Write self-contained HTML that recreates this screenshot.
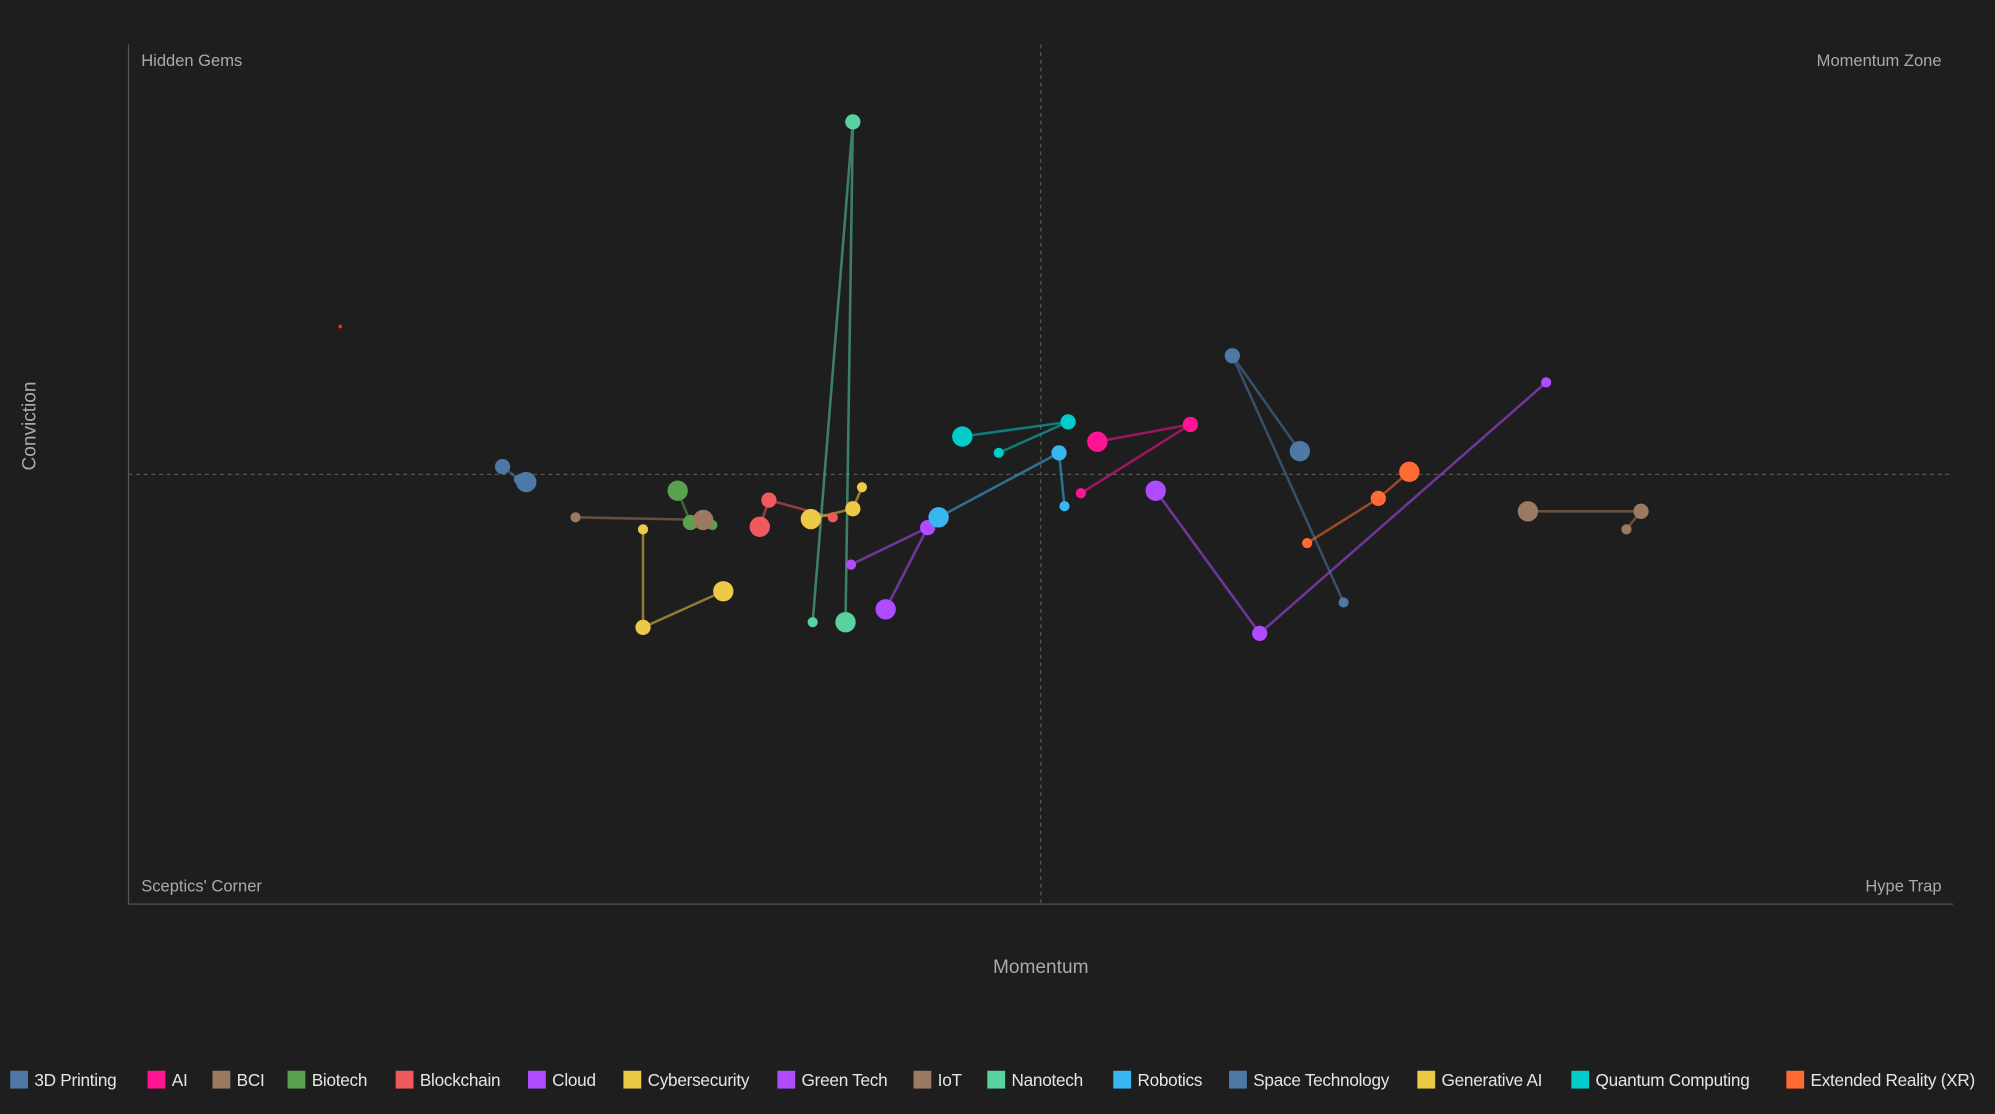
<!DOCTYPE html>
<html><head><meta charset="utf-8"><style>
html,body{margin:0;padding:0;background:#1e1e1e;width:1995px;height:1114px;overflow:hidden}
svg{display:block}
text{font-family:"Liberation Sans",sans-serif}
</style></head><body>
<svg id="chart" width="1995" height="1114" viewBox="0 0 1568 876" preserveAspectRatio="none" xmlns="http://www.w3.org/2000/svg">
<rect x="0" y="0" width="1568" height="876" fill="#1e1e1e"/>
<g id="axes"></g>
<g id="lines"></g>
<g id="points"></g>
<g id="legend"></g>
</svg>
<script>
const seriesNames = ["3D Printing","AI","BCI","Biotech","Blockchain","Cloud","Cybersecurity","Green Tech","IoT","Nanotech","Robotics","Space Technology","Generative AI","Quantum Computing","Extended Reality (XR)"];
const seriesColors = ["#4e79a7","#ff1493","#9c7a62","#59a14f","#f05a5f","#b04cff","#edc948","#b04cff","#9c7a62","#5ad2a0","#38b6f0","#4e79a7","#edc948","#00cccc","#ff6b35"];
const momentum = [
 [20.5,21.4,21.8],[52.2,58.2,53.1],[82.1,82.9,76.7],[32.0,30.8,30.1],[34.6,35.1,38.6],
 [39.6,43.8,41.5],[28.2,28.2,32.6],[77.7,62.0,56.3],[24.5,31.5],[37.5,39.7,39.3],
 [51.3,51.0,44.4],[66.6,60.5,64.2],[40.2,39.7,37.4],[47.7,51.5,45.7],[64.6,68.5,70.2]];
const conviction = [
 [50.9,49.4,49.1],[47.8,55.8,53.8],[43.6,45.7,45.7],[44.1,44.4,48.1],[43.9,47.0,45.0],
 [39.5,43.8,34.3],[43.6,32.2,36.4],[60.7,31.5,48.1],[45.0,44.7],[32.8,91.0,32.8],
 [46.3,52.5,45.0],[35.1,63.8,52.7],[48.5,46.0,44.8],[52.5,56.1,54.4],[42.0,47.2,50.3]];
const sizes = [
 [2,1,3],[1,2,3],[1,2,3],[1,2,3],[3,2,1],[1,2,3],[1,2,3],[1,2,3],[1,3],[1,2,3],
 [1,2,3],[1,2,3],[1,2,3],[1,2,3],[1,2,3]];
const outlierPoint = [11.6,67.2];
const quadrantLabels = ["Hidden Gems","Momentum Zone","Sceptics' Corner","Hype Trap"];
const legendX = [8,116,167,226,311,415,490,611,718,776,875,966,1114,1235,1404];

const X0=101,X1=1535,Y0=711,Y1=35;
const xs=v=>X0+(v/100)*(X1-X0);
const ys=v=>Y0-(v/100)*(Y0-Y1);
const rs=s=>2+s*2;
const NS="http://www.w3.org/2000/svg";
function mk(tag,attrs,parent){const e=document.createElementNS(NS,tag);for(const k in attrs)e.setAttribute(k,attrs[k]);parent.appendChild(e);return e;}

const axes=document.getElementById('axes');
let e;
e=mk('line',{x1:X0,y1:Y1,x2:X0,y2:Y0,stroke:'#555','stroke-width':1},axes);


e=mk('line',{x1:X0,y1:Y0,x2:X1,y2:Y0,stroke:'#555','stroke-width':1},axes);


e=mk('line',{x1:xs(50),y1:Y1,x2:xs(50),y2:Y0,stroke:'#555','stroke-width':1,'stroke-dasharray':'3,3'},axes);


e=mk('line',{x1:X0,y1:ys(50),x2:X1,y2:ys(50),stroke:'#555','stroke-width':1,'stroke-dasharray':'3,3'},axes);



const qpos=[[111,52,'start'],[1526,52,'end'],[111,701,'start'],[1526,701,'end']];
quadrantLabels.forEach((t,i)=>{
 const q=mk('text',{x:qpos[i][0],y:qpos[i][1],'text-anchor':qpos[i][2],fill:'#aaaaaa','font-size':13},axes);
 q.textContent=t;
 
 
});
e=mk('text',{x:818,y:765,'text-anchor':'middle',fill:'#aaaaaa','font-size':15},axes);
e.textContent='Momentum';


e=mk('text',{x:28,y:335,'text-anchor':'middle',fill:'#aaaaaa','font-size':15,transform:'rotate(-90 28 335)'},axes);
e.textContent='Conviction';



const lines=document.getElementById('lines'),pts=document.getElementById('points');
seriesNames.forEach((n,i)=>{
 const d=momentum[i].map((m,j)=>(j?'L':'M')+xs(m)+','+ys(conviction[i][j])).join(' ');
 const p=mk('path',{d:d,fill:'none',stroke:seriesColors[i],'stroke-opacity':0.55,'stroke-width':2},lines);
 
 
 momentum[i].forEach((m,j)=>{
  const c=mk('circle',{cx:xs(m),cy:ys(conviction[i][j]),r:rs(sizes[i][j]),fill:seriesColors[i]},pts);
  
  
 });
});
e=mk('circle',{cx:xs(outlierPoint[0]),cy:ys(outlierPoint[1]),r:1.5,fill:'#ff2020'},pts);



const lg=document.getElementById('legend');
seriesNames.forEach((n,i)=>{
 const g=mk('g',{},lg);
 
 
 mk('rect',{x:legendX[i],y:842,width:14,height:14,fill:seriesColors[i]},g);
 const t=mk('text',{x:legendX[i]+19,y:854,fill:'#e6e6e6','font-size':13.5,'letter-spacing':-0.2},g);
 t.textContent=n;
});
</script>
</body></html>
